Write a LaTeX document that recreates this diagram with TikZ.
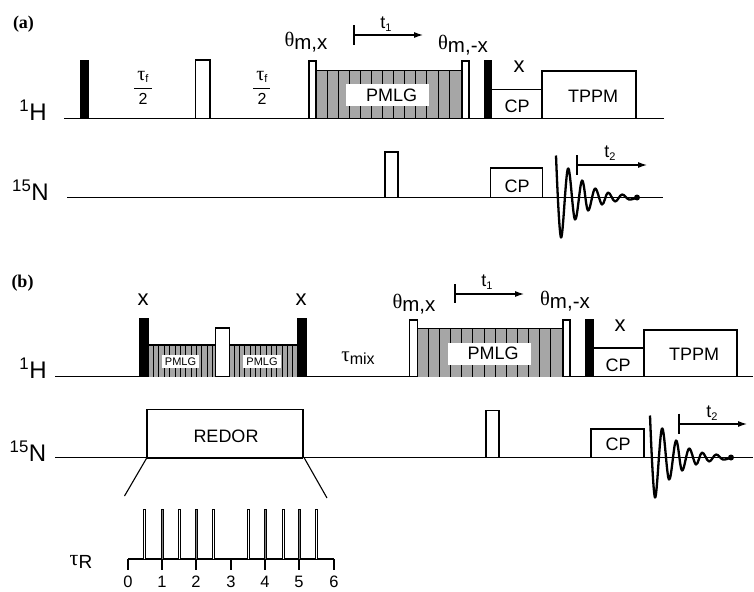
\documentclass[tikz,border=0pt]{standalone}
\usepackage{fontspec}
\usetikzlibrary{arrows.meta}
\setmainfont{Liberation Sans}
\newfontfamily\greekfont{Liberation Serif}
\newcommand{\fsize}[1]{\fontsize{#1}{#1}\selectfont}
\newcommand{\hnuc}{\textsuperscript{1}H}
\newcommand{\nnuc}{\textsuperscript{15}N}
\newcommand{\angl}[1]{{\greekfont θ}\raisebox{-3pt}{#1}}
\newcommand{\tauf}{{\fsize{20}\greekfont τ}\raisebox{-2pt}{\fsize{11}f}}
\newcommand{\tlab}[1]{\fsize{18}t\raisebox{-3pt}{\fsize{11}#1}}
\definecolor{pmlggray}{HTML}{A6A6A6}
\tikzset{
  rail/.style={line width=1.2pt},
  whitepulse/.style={draw,fill=white,line width=1.2pt},
  blackpulse/.style={draw,fill=black,line width=0.6pt},
  box/.style={draw,fill=white,line width=1.1pt},
  axis/.style={line width=1.1pt},
  tick/.style={line width=1.1pt,-{Latex[length=9pt,width=6pt]}},
  lab/.style={inner sep=0pt,font=\fsize{18}},
  big/.style={inner sep=0pt,font=\fsize{24}},
  ang/.style={inner sep=0pt,font=\fsize{20.5}},
  pmlgblock/.pic={
    \fill[pmlggray] (0,0) rectangle (146,-48);
    \foreach \i in {0,...,11}
      \draw[line width=0.9pt] ({11+11.1*\i},0) -- ({11+11.1*\i},-48);
    \draw[line width=1.1pt] (0,-48) -- (146,-48);
    \node[lab,fill=white,minimum width=83pt,minimum height=22pt] (-tag) at (71.5,-23) {\ \,PMLG};
  },
  fid/.pic={
    \draw[line width=2.3pt,line join=round] plot[smooth,tension=0.6] coordinates {
      (0,-42) (5,40) (12,-29) (19,22) (26,-17) (32,13) (39,-9) (46,7)
      (52,-5) (59,4) (66,-3) (73,2) (81,0)};
    \fill (81,0) circle (3pt);
  },
}
\begin{document}
\begin{tikzpicture}[x=1pt,y=-1pt]
\useasboundingbox (0,0) rectangle (754,591);

% part a
\node[inner sep=0pt,font=\fsize{18}\bfseries\greekfont] (a) at (23.5,24) {(a)};
\node[big] (H1) at (33,110) {\hnuc};
\node[big] (N1) at (30.5,190) {\nnuc};
\coordinate (ha) at (64,118.5);
\coordinate (hb) at (664,118.5);
\coordinate (na) at (67,197.5);
\coordinate (nb) at (663,197.5);
\draw[rail] (ha) -- (hb);
\draw[rail] (na) -- (nb);

\draw[blackpulse] (80,60) rectangle (88,118.5);
\draw[whitepulse] (195.5,60) rectangle (210,118.5);
\node[lab] (tf1) at (143,77) {\tauf};
\node[lab,font=\fsize{16}] (tw1) at (143,99) {2};
\draw[line width=0.9pt] (134,88) -- (152,88);
\node[lab] (tf2) at (262,77) {\tauf};
\node[lab,font=\fsize{16}] (tw2) at (262,99) {2};
\draw[line width=0.9pt] (253,88) -- (270,88);

\pic (p1) at (316,118.5) {pmlgblock};
\draw[whitepulse] (309,61) rectangle (316,118.5);
\draw[whitepulse] (462,61) rectangle (469,118.5);
\draw[blackpulse] (484,60) rectangle (491,118.5);
\draw[box] (491.5,89.5) rectangle (542,118.5);
\draw[box] (542,71) rectangle (636,118.5);
\node[lab,font=\fsize{22}] (x1) at (519,67) {x};
\node[lab] (cp1) at (517,106) {CP};
\node[lab] (tppm1) at (593,96) {TPPM};
\node[ang] (th1) at (306,42) {\angl{m,x}};
\node[ang] (th2) at (463,45) {\angl{m,-x}};

\coordinate (t1a) at (354,35);
\coordinate (t1b) at (423,35);
\draw[axis] (354,25.5) -- (354,45);
\draw[tick] (t1a) -- (t1b);
\node[lab] (t1) at (386,24) {\tlab{1}};

\draw[whitepulse] (385,152) rectangle (398,197.5);
\draw[box] (490.5,168) rectangle (542.5,197.5);
\node[lab] (cp2) at (517,186) {CP};
\pic (f1) at (556,197.5) {fid};
\coordinate (t2a) at (577,165);
\coordinate (t2b) at (647,165);
\draw[axis] (577,155) -- (577,175);
\draw[tick] (t2a) -- (t2b);
\node[lab] (t2) at (610,153) {\tlab{2}};

% part b
\node[inner sep=0pt,font=\fsize{18}\bfseries\greekfont] (b) at (22.5,283.5) {(b)};
\node[big] (H2) at (33,368) {\hnuc};
\node[big] (N2) at (28,451) {\nnuc};
\coordinate (hc) at (55,376.5);
\coordinate (hd) at (753,376.5);
\coordinate (nc) at (55,457.5);
\coordinate (nd) at (753,457.5);
\draw[rail] (hc) -- (hd);
\draw[rail] (nc) -- (nd);

\fill[pmlggray] (148,345) rectangle (298,376.5);
\foreach \i in {0,...,11}
  \draw[line width=0.8pt] ({153.5+5.35*\i},345) -- ({153.5+5.35*\i},376.5);
\foreach \i in {0,...,12}
  \draw[line width=0.8pt] ({234+5.35*\i},345) -- ({234+5.35*\i},376.5);
\draw[line width=1.1pt] (148,345) -- (298,345);
\node[lab,fill=white,minimum width=37pt,minimum height=13pt,font=\fsize{11}] (pm1) at (180.5,361.5) {PMLG};
\node[lab,fill=white,minimum width=38pt,minimum height=13pt,font=\fsize{11}] (pm2) at (262,361.5) {PMLG};
\draw[blackpulse] (139.5,318) rectangle (148,376.5);
\draw[blackpulse] (297.5,318.5) rectangle (306,376.5);
\draw[whitepulse] (215.5,328) rectangle (229.5,376.5);
\node[lab,font=\fsize{22}] (x2) at (143,300) {x};
\node[lab,font=\fsize{22}] (x3) at (301,300) {x};
\node[lab,font=\fsize{21}] (tmix) at (358,358) {{\greekfont τ}\raisebox{-3pt}{\fsize{16}mix}};

\pic (p2) at (417.5,376.5) {pmlgblock};
\draw[whitepulse] (409.5,320) rectangle (417.5,376.5);
\draw[whitepulse] (563,320) rectangle (570,376.5);
\draw[blackpulse] (585,319) rectangle (593,376.5);
\draw[box] (593,348) rectangle (644,376.5);
\draw[box] (644,330) rectangle (737,376.5);
\node[lab,font=\fsize{22}] (x4) at (620,326) {x};
\node[lab] (cp3) at (618,365) {CP};
\node[lab] (tppm2) at (694,354) {TPPM};
\node[ang] (th3) at (414,304) {\angl{m,x}};
\node[ang] (th4) at (565,301) {\angl{m,-x}};

\coordinate (t1c) at (455,294);
\coordinate (t1d) at (524,294);
\draw[axis] (455,284) -- (455,303);
\draw[tick] (t1c) -- (t1d);
\node[lab] (t3) at (487,282) {\tlab{1}};

\draw[box] (147,409.5) rectangle (303,457.5);
\node[lab] (redor) at (226,436) {REDOR};
\draw[line width=2pt] (147,457.5) -- (303,457.5);
\coordinate (za) at (147,457.5);
\coordinate (zb) at (124.5,496);
\coordinate (zc) at (304,457.5);
\coordinate (zd) at (327,498);
\draw[axis] (za) -- (zb);
\draw[axis] (zc) -- (zd);

\draw[whitepulse] (486,410.5) rectangle (499,457.5);
\draw[box] (591,429) rectangle (644,457.5);
\node[lab] (cp4) at (618,444.5) {CP};
\pic (f2) at (650,457.5) {fid};
\coordinate (t2c) at (679,424);
\coordinate (t2d) at (747,424);
\draw[axis] (679,413.5) -- (679,433.5);
\draw[tick] (t2c) -- (t2d);
\node[lab] (t4) at (712,413) {\tlab{2}};

% rotor periods
\node[lab,font=\fsize{22}] (tr) at (81,562) {{\greekfont τ}\raisebox{-3pt}{\fsize{19}R}};
\draw[axis] (128,559) -- (334,559);
\foreach \xp in {144,179,213,248,283,316}
  \draw[line width=0.8pt,fill=white] (\xp-1,509) rectangle (\xp+1,559);
\foreach \xp in {162,196,265,299.5}
  \draw[line width=0.8pt,fill=gray] (\xp-1,509) rectangle (\xp+1,559);
\foreach \xp/\n in {128/0,162/1,196/2,231/3,265/4,299/5,334/6} {
  \draw[axis] (\xp,559) -- (\xp,570);
  \node[lab,font=\fsize{16.5}] (tk\n) at (\xp,582) {\n};
}
\end{tikzpicture}
\end{document}
